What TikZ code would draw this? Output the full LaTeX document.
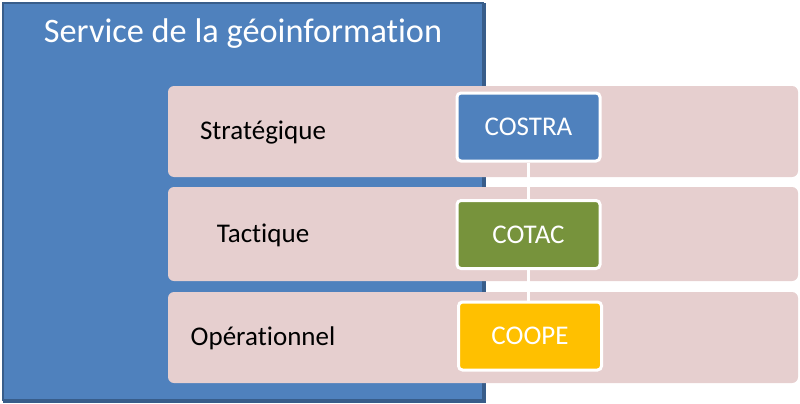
\documentclass[tikz,border=0pt]{standalone}
\usepackage{fontspec}
\setmainfont{Carlito}[Ligatures=NoCommon]
\definecolor{sblue}{HTML}{4F81BD}
\definecolor{sblueedge}{HTML}{385D8A}
\definecolor{spink}{HTML}{E6CFCF}
\definecolor{sgreen}{HTML}{77933C}
\definecolor{sgold}{HTML}{FFC000}
\tikzset{
  band/.style={fill=spink, rounded corners=6pt, draw=none},
  unit/.style={draw=white, line width=3pt, rounded corners=4pt, minimum width=143pt, minimum height=68pt, inner sep=0pt, text=white, font=\fontsize{27}{29}\selectfont},
  lvl/.style={font=\fontsize{27}{29}\selectfont, text=black, inner sep=0pt},
  link/.style={draw=white, line width=2.5pt}
}
\begin{document}
\begin{tikzpicture}[x=1pt,y=-1pt]
\useasboundingbox (0,0) rectangle (800,404);
% big service rectangle
\fill[sblueedge] (3,3) rectangle (486,403);
\fill[sblue] (3,3) rectangle (483,400);
\draw[sblueedge, line width=1.2pt] (3,3) rectangle (483,400);
\node[text=white, font=\fontsize{34.3}{37}\selectfont, inner sep=0pt] (title) at (243,33.5) {Service de la géoinformation};
% bands
\path[band] (168,86) rectangle (798,177);
\path[band] (168,187) rectangle (798,281);
\path[band] (168,292) rectangle (798,383);
% level labels
\node[lvl] (strat) at (263,132.5) {Stratégique};
\node[lvl] (tact) at (263,235) {Tactique};
\node[lvl] (oper) at (263,338) {Opérationnel};
% units
\node[unit, fill=sblue] (costra) at (528.5,127) {COSTRA};
\node[unit, fill=sgreen] (cotac) at (528.5,234.5) {COTAC};
\node[unit, fill=sgold] (coope) at (530,336) {COOPE};
\draw[link] (costra.south) -- (cotac.north);
\draw[link] (cotac.south) -- (coope.north -| cotac.south);
\end{tikzpicture}
\end{document}
